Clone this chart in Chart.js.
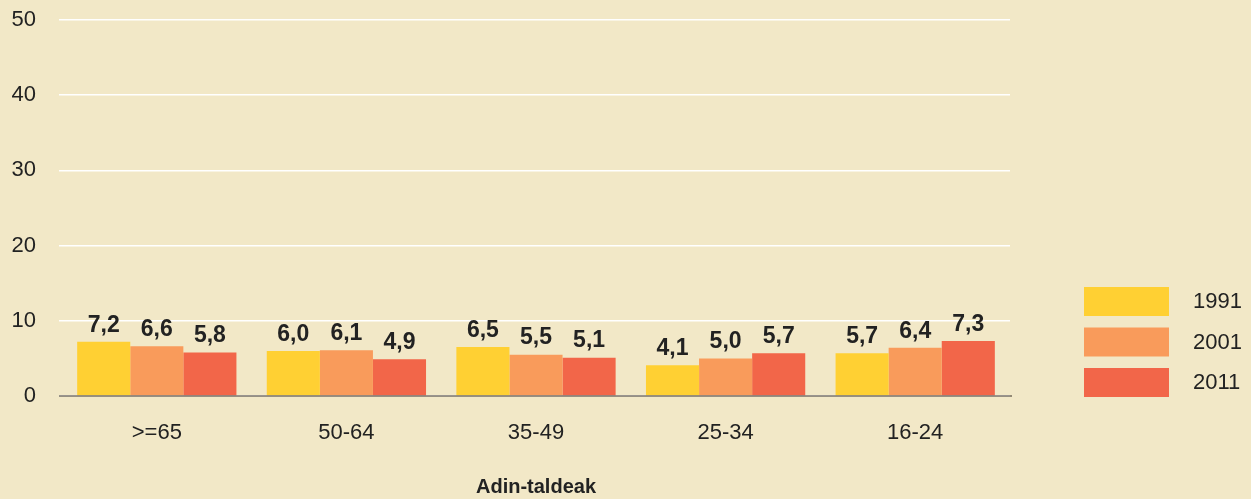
<!DOCTYPE html>
<html>
<head>
<meta charset="utf-8">
<script src="https://cdn.jsdelivr.net/npm/chart.js"></script>
<style>
  html, body { margin: 0; padding: 0; background: #F2E8C7; }
  #wrap { width: 1251px; height: 499px; }
</style>
</head>
<body>
<div id="wrap"><canvas id="chart" width="1251" height="499"></canvas></div>
<script>
const categories = ['>=65', '50-64', '35-49', '25-34', '16-24'];
const years = ['1991', '2001', '2011'];
const values1991 = [7.2, 6.0, 6.5, 4.1, 5.7];
const values2001 = [6.6, 6.1, 5.5, 5.0, 6.4];
const values2011 = [5.8, 4.9, 5.1, 5.7, 7.3];
const yTicks = [0, 10, 20, 30, 40, 50];
const colors = ['#FFD033', '#F99B5B', '#F26649'];

const fmt = v => v.toFixed(1).replace('.', ',');

// value labels above bars + dark baseline on top
const barLabels = {
  id: 'barLabels',
  afterDatasetsDraw(chart) {
    const ctx = chart.ctx;
    ctx.save();
    ctx.font = 'bold 23px "Liberation Sans", Arial, sans-serif';
    ctx.fillStyle = '#222';
    ctx.textAlign = 'center';
    ctx.textBaseline = 'bottom';
    chart.data.datasets.forEach((ds, i) => {
      chart.getDatasetMeta(i).data.forEach((bar, j) => {
        ctx.fillText(fmt(ds.data[j]), bar.x, bar.y - 5);
      });
    });
    const y0 = chart.scales.y.getPixelForValue(0);
    ctx.strokeStyle = 'rgba(70,60,50,0.55)';
    ctx.lineWidth = 2;
    ctx.beginPath();
    ctx.moveTo(chart.chartArea.left - 3, y0);
    ctx.lineTo(chart.chartArea.right + 2, y0);
    ctx.stroke();
    ctx.restore();
  }
};

// legend on the right
const sideLegend = {
  id: 'sideLegend',
  afterDraw(chart) {
    const ctx = chart.ctx;
    ctx.save();
    ctx.font = '22px "Liberation Sans", Arial, sans-serif';
    ctx.textBaseline = 'middle';
    ctx.textAlign = 'left';
    chart.data.datasets.forEach((ds, i) => {
      const top = 287 + i * 40.5;
      ctx.fillStyle = ds.backgroundColor;
      ctx.fillRect(1084, top, 85, 29);
      ctx.fillStyle = '#222';
      ctx.fillText(ds.label, 1193, top + 15);
    });
    ctx.restore();
  }
};

new Chart(document.getElementById('chart'), {
  type: 'bar',
  data: {
    labels: categories,
    datasets: [
      { label: years[0], data: values1991, backgroundColor: colors[0] },
      { label: years[1], data: values2001, backgroundColor: colors[1] },
      { label: years[2], data: values2011, backgroundColor: colors[2] }
    ]
  },
  options: {
    responsive: false,
    animation: false,
    layout: { padding: { top: 20, right: 241, left: 0, bottom: 0 } },
    datasets: { bar: { barPercentage: 1, categoryPercentage: 0.84 } },
    plugins: { legend: { display: false }, tooltip: { enabled: false } },
    scales: {
      x: {
        grid: { display: false, drawTicks: false },
        border: { display: false },
        ticks: { color: '#222', padding: 24, font: { size: 22, family: '"Liberation Sans", Arial, sans-serif' } },
        title: {
          display: true,
          text: 'Adin-taldeak',
          color: '#222',
          padding: { top: 0, bottom: 0 },
          font: { size: 20, weight: 'bold', family: '"Liberation Sans", Arial, sans-serif' }
        },
        afterFit(scale) { scale.height = 103; }
      },
      y: {
        min: 0,
        max: 50,
        afterBuildTicks(scale) { scale.ticks = yTicks.map(v => ({ value: v })); },
        grid: { color: '#FFFFFF', lineWidth: 1.5, tickLength: 3 },
        border: { display: false },
        ticks: { color: '#222', padding: 23, font: { size: 22, family: '"Liberation Sans", Arial, sans-serif' } },
        afterFit(scale) {
          scale.width = 62;
          scale.paddingTop = 0;
          scale.paddingBottom = 0;
        }
      }
    }
  },
  plugins: [barLabels, sideLegend]
});
</script>
</body>
</html>
